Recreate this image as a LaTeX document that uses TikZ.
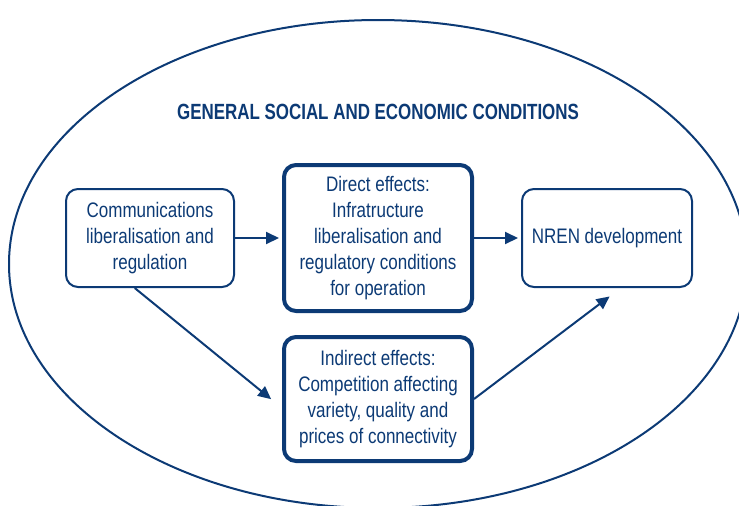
\documentclass[tikz,border=0pt]{standalone}
\usepackage{fontspec}
\setmainfont{Liberation Sans}[FakeStretch=0.81]
\newfontfamily\titlefont{Liberation Sans}[FakeStretch=0.77]
\usetikzlibrary{graphs}
\usetikzlibrary{calc}
\usetikzlibrary{arrows.meta}
\definecolor{navy}{RGB}{12,58,117}
\tikzset{
  box/.style= {draw=navy, line width=1pt, rounded corners=6pt, align=center, text=navy,
    minimum width=84pt, minimum height=49pt, inner sep=0pt, font=\fontsize{10.5}{13}\selectfont},
  bbox/.style= {box, line width=2pt, minimum width=94pt},
  link/.style= {draw=navy, line width=1pt},
}

\begin{document}
\begin{tikzpicture}[x=0.5pt, y=-0.5pt, >={Triangle[length=6.5pt,width=6pt]}]
  \useasboundingbox (0,0) rectangle (739,505);
  \clip (0,0) rectangle (739,505);
  \draw [navy, line width=1pt] (378,264) ellipse [x radius=184.5pt, y radius=122pt];

  \node [text=navy, font=\titlefont\bfseries\fontsize{11}{13}\selectfont] (title) at (378,112)
    {GENERAL SOCIAL AND ECONOMIC CONDITIONS};
  \node [box] (comm) at (150,238) {Communications\\liberalisation and\\regulation};
  \node [bbox, minimum height=73pt] (direct) at (378,238)
    {Direct effects:\\Infratructure\\liberalisation and\\regulatory conditions\\for operation};
  \node [box, minimum width=85pt] (nren) at (607,238) {NREN development};
  \node [bbox, minimum height=62pt] (indirect) at (378,399)
    {Indirect effects:\\Competition affecting\\variety, quality and\\prices of connectivity};

  \graph [edges={link, shorten >=1.5pt}] {
    (comm) -> (direct) -> (nren) ;
  } ;
  \draw [link, ->, shorten >=7pt] ($(comm.south west)!0.41!(comm.south east)$) -- ($(indirect.west)+(0,9)$);
  \draw [link, ->, shorten >=7pt] (indirect.east) -- ($(nren.south west)!0.58!(nren.south east)$);
\end{tikzpicture}
\end{document}
